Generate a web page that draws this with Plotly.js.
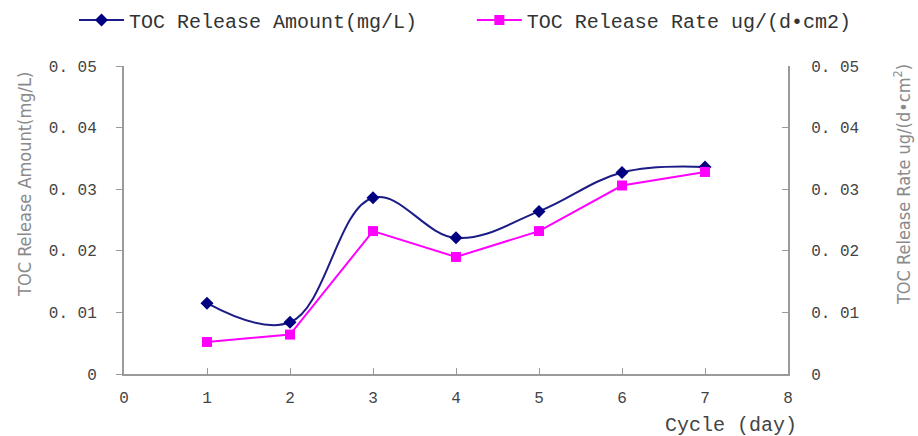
<!DOCTYPE html>
<html>
<head>
<meta charset="utf-8">
<script src="https://cdn.plot.ly/plotly-3.0.1.min.js"></script>
<style>
  html, body { margin: 0; padding: 0; background: #fff; }
  #chart { width: 918px; height: 436px; }
</style>
</head>
<body>
<div id="chart"></div>
<script>
// Cycle days and TOC measurements
const cycles = [1, 2, 3, 4, 5, 6, 7];
const tocAmount = [0.0115, 0.0084, 0.0286, 0.0221, 0.0264, 0.0327, 0.0336];
const tocRate = [0.0052, 0.0064, 0.0232, 0.0190, 0.0232, 0.0306, 0.0328];

const yTickVals = [0, 0.01, 0.02, 0.03, 0.04, 0.05];
const yTickText = ['0', '0. 01', '0. 02', '0. 03', '0. 04', '0. 05'];
const xTickVals = [0, 1, 2, 3, 4, 5, 6, 7, 8];

const monoFamily = 'Liberation Mono, Courier New, monospace';
const tickFont = { family: monoFamily, size: 16, color: '#444' };
const titleFont = { family: 'Liberation Sans Narrow, DejaVu Sans Condensed, Arial Narrow, sans-serif', size: 18, color: '#8a8a8a' };
const legendFont = { family: monoFamily, size: 20, color: '#333' };
const axisColor = '#9a9a9a';

const traces = [
  {
    x: cycles, y: tocAmount, name: 'TOC Release Amount(mg/L)',
    type: 'scatter', mode: 'lines+markers',
    line: { color: '#1c1c86', width: 2, shape: 'spline', smoothing: 1.1 },
    marker: { symbol: 'diamond', size: 10, color: '#000080' },
    yaxis: 'y', legend: 'legend'
  },
  {
    x: cycles, y: tocRate, name: 'TOC Release Rate ug/(d\u2022cm2)',
    type: 'scatter', mode: 'lines+markers',
    line: { color: '#ff00ff', width: 2 },
    marker: { symbol: 'square', size: 10, color: '#ff00ff' },
    yaxis: 'y2', legend: 'legend2'
  }
];

const legendBase = {
  orientation: 'h', xref: 'container', yref: 'container',
  xanchor: 'left', y: 0.954, yanchor: 'middle',
  font: legendFont, itemwidth: 45, bgcolor: 'rgba(0,0,0,0)'
};

const layout = {
  width: 918, height: 436,
  margin: { l: 124, r: 130, t: 66, b: 62, autoexpand: false },
  paper_bgcolor: '#fff', plot_bgcolor: '#fff',
  showlegend: true,
  legend: Object.assign({}, legendBase, { x: 0.0806 }),
  legend2: Object.assign({}, legendBase, { x: 0.514 }),
  xaxis: {
    range: [0, 8], tickvals: xTickVals, ticks: 'inside', ticklen: 6, tickcolor: axisColor,
    showline: true, linecolor: axisColor, linewidth: 2, showgrid: false, zeroline: false,
    tickfont: tickFont, ticklabelstandoff: 8
  },
  yaxis: {
    range: [0, 0.05], tickvals: yTickVals, ticktext: yTickText,
    ticks: 'outside', ticklen: 6, tickcolor: axisColor,
    showline: true, linecolor: axisColor, linewidth: 2, showgrid: false, zeroline: false,
    tickfont: tickFont, ticklabelstandoff: 16
  },
  yaxis2: {
    range: [0, 0.05], tickvals: yTickVals, ticktext: yTickText, overlaying: 'y', side: 'right',
    ticks: 'inside', ticklen: 6, tickcolor: axisColor,
    showline: true, linecolor: axisColor, linewidth: 2, showgrid: false, zeroline: false,
    tickfont: tickFont, ticklabelstandoff: 18
  },
  annotations: [
    {
      text: 'TOC Release Amount(mg/L)', xref: 'paper', yref: 'paper',
      x: -0.149, y: 0.614, textangle: -90, showarrow: false, font: titleFont,
      xanchor: 'center', yanchor: 'middle'
    },
    {
      text: 'TOC Release Rate ug/(d\u2022cm<sup>2</sup>)', xref: 'paper', yref: 'paper',
      x: 1.172, y: 0.614, textangle: -90, showarrow: false, font: titleFont,
      xanchor: 'center', yanchor: 'middle'
    },
    {
      text: 'Cycle (day)', xref: 'paper', yref: 'paper',
      x: 1.016, y: -0.166, showarrow: false,
      font: { family: monoFamily, size: 20, color: '#444' },
      xanchor: 'right', yanchor: 'middle'
    }
  ]
};

Plotly.newPlot('chart', traces, layout, { displayModeBar: false, staticPlot: true });
</script>
</body>
</html>
